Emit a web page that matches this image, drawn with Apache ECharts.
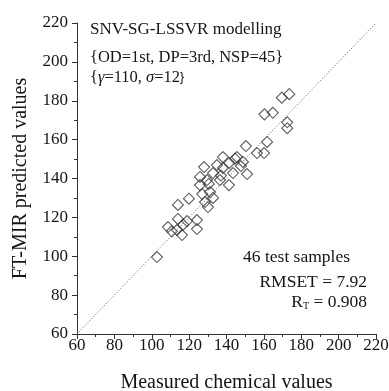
<!DOCTYPE html>
<html>
<head>
<meta charset="utf-8">
<script src="https://cdn.jsdelivr.net/npm/echarts@6/dist/echarts.min.js"></script>
<style>html,body{margin:0;padding:0;background:#fff}#c{width:389px;height:391px}</style>
</head>
<body>
<div id="c"></div>
<script>
const measured = [102.8,108.7,110.7,113.5,116.2,114.0,116.8,118.9,124.2,124.2,114.0,119.9,128.5,130.1,132.8,131.2,125.8,125.8,129.6,130.5,136.5,141.3,128.0,132.8,134.9,138.1,138.1,143.5,147.7,151.0,148.8,145.6,150.4,144.5,156.3,160.1,161.7,160.3,164.8,172.5,172.5,169.6,173.6,127.0,137.0,141.5];
const predicted = [99.6,115.0,112.8,113.5,110.9,119.2,116.2,118.1,118.6,114.0,126.4,129.6,127.9,125.3,130.0,133.0,136.6,140.8,139.2,137.2,139.2,136.6,145.9,142.8,146.9,145.4,151.0,142.8,146.4,142.3,148.5,151.0,156.7,150.2,153.1,153.1,158.8,173.0,173.8,168.9,165.9,181.6,183.4,132.0,141.5,148.0];
const identityLine = [60, 220];
const axisMin = 60, axisMax = 220, axisStep = 20;
const titleLines = ['SNV-SG-LSSVR modelling', '{OD=1st, DP=3rd, NSP=45}'];
const sampleText = '46 test samples';
const rmseText = 'RMSET = 7.92';
const rText = '0.908';

const pts = measured.map((m, i) => [m, predicted[i]]);
const serif = '"Liberation Serif", "Times New Roman", serif';
const ink = '#151515';
const chart = echarts.init(document.getElementById('c'));
const axisCommon = {
  type: 'value', min: axisMin, max: axisMax, interval: axisStep,
  axisLine: {show: true, lineStyle: {color: '#333', width: 1}},
  axisTick: {show: true, inside: false, length: 5, lineStyle: {color: '#333'}},
  minorTick: {show: true, splitNumber: 2, length: 3, lineStyle: {color: '#333'}},
  splitLine: {show: false},
  nameLocation: 'middle',
  nameTextStyle: {fontFamily: serif, fontSize: 20, color: ink}
};
chart.setOption({
  animation: false,
  grid: {left: 77, right: 13, top: 23, bottom: 57, containLabel: false, outerBoundsMode: 'none'},
  xAxis: Object.assign({}, axisCommon, {
    name: 'Measured chemical values', nameGap: 39,
    axisLabel: {fontFamily: serif, fontSize: 17, color: ink, margin: 3}
  }),
  yAxis: Object.assign({}, axisCommon, {
    name: 'FT-MIR predicted values', nameGap: 46,
    axisLabel: {fontFamily: serif, fontSize: 17, color: ink, margin: 9}
  }),
  series: [
    {
      type: 'line', data: identityLine.map(v => [v, v]), symbol: 'none', silent: true,
      lineStyle: {type: [1, 2], color: '#555', width: 1}, z: 1
    },
    {
      type: 'scatter', data: pts, symbol: 'diamond', symbolSize: 11,
      itemStyle: {color: 'rgba(255,255,255,0)', borderColor: '#333', borderWidth: 1.1}, z: 2
    }
  ],
  graphic: [
    {type: 'text', left: 90, top: 21, style: {text: titleLines[0], font: '17px ' + serif, fill: ink}},
    {type: 'text', left: 90, top: 49, style: {text: titleLines[1], font: '16.5px ' + serif, fill: ink}},
    {type: 'text', left: 90, top: 69, style: {
      text: '{n|{}{g|γ}{n|=110, }{g|σ}{n|=12}}',
      rich: {n: {font: '16.5px ' + serif, fill: ink}, g: {font: 'italic 16.5px ' + serif, fill: ink}}
    }},
    {type: 'text', right: 39, top: 248, style: {text: sampleText, font: '17.5px ' + serif, fill: ink}},
    {type: 'text', right: 22, top: 273, style: {text: rmseText, font: '17.5px ' + serif, fill: ink}},
    {type: 'text', right: 22, top: 293, style: {
      text: '{n|R}{s|T}{n| = ' + rText + '}',
      rich: {n: {font: '17.5px ' + serif, fill: ink}, s: {font: '10px ' + serif, fill: ink, verticalAlign: 'bottom', padding: [9, 0, 0, 0]}}
    }}
  ]
});
</script>
</body>
</html>
